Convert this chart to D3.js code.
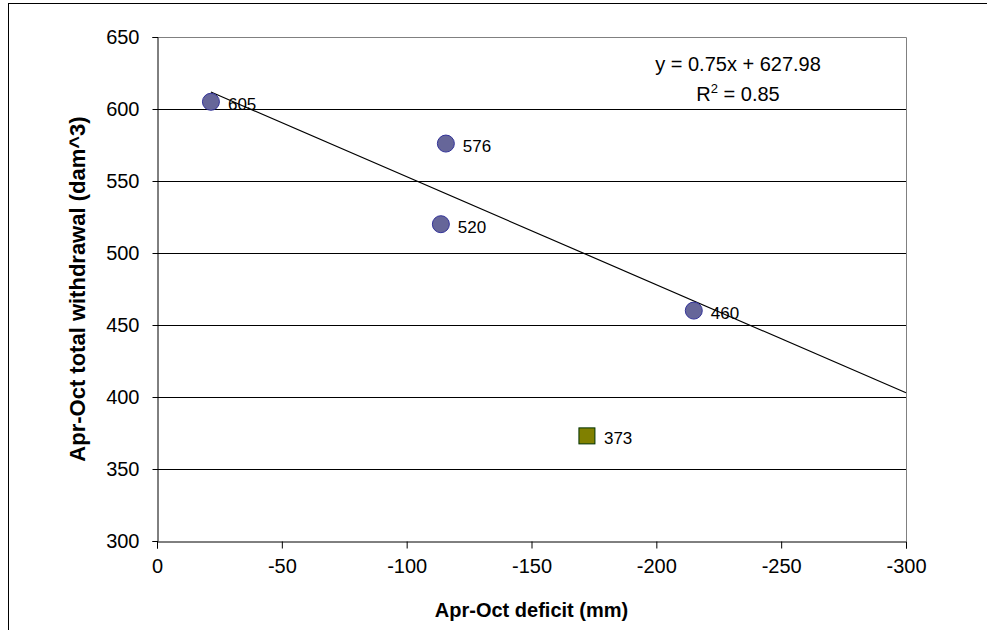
<!DOCTYPE html>
<html>
<head>
<meta charset="utf-8">
<script src="https://cdn.jsdelivr.net/npm/d3@7"></script>
<style>
  body { margin: 0; background: #fff; }
  svg { display: block; font-family: Arial, "Liberation Sans", sans-serif; }
</style>
</head>
<body>
<svg id="chart" width="987" height="630"></svg>
<script>
// observed years: deficit (mm) vs total withdrawal (dam^3)
var deficit = [-21.6, -115.7, -113.7, -215.0];
var withdrawal = [605, 576, 520, 460];
// the odd year, drawn as a square
var outlierDeficit = [-172.2];
var outlierWithdrawal = [373];
// trendline as given in the chart
var trendSlope = 0.75;
var trendIntercept = 627.98;
var trendR2 = 0.85;
var xTicks = [0, -50, -100, -150, -200, -250, -300];
var yTicks = [300, 350, 400, 450, 500, 550, 600, 650];

var svg = d3.select("#chart");
var margin = {left: 157, top: 37, right: 906, bottom: 541};

// outer frame (runs off the right and bottom edge)
svg.append("rect")
  .attr("x", 8.5).attr("y", 3.5)
  .attr("width", 1000).attr("height", 700)
  .attr("fill", "none").attr("stroke", "#000");

var x = d3.scaleLinear().domain([0, -300]).range([margin.left, margin.right]);
var y = d3.scaleLinear().domain([300, 650]).range([margin.bottom, margin.top]);

// gridlines
svg.append("g").selectAll("line")
  .data(yTicks.filter(function (d) { return d > 300 && d < 650; }))
  .join("line")
  .attr("x1", margin.left).attr("x2", margin.right)
  .attr("y1", function (d) { return Math.round(y(d)) + 0.5; })
  .attr("y2", function (d) { return Math.round(y(d)) + 0.5; })
  .attr("stroke", "#000");

// plot frame top + right in grey
svg.append("path")
  .attr("d", "M" + margin.left + "," + (margin.top + 0.5) + "H" + (margin.right + 0.5) + "V" + margin.bottom)
  .attr("fill", "none").attr("stroke", "#808080");

var xAxis = svg.append("g")
  .attr("transform", "translate(0," + (margin.bottom + 0.5) + ")")
  .call(d3.axisBottom(x).tickValues(xTicks).tickSize(7).tickPadding(10).tickFormat(d3.format("d")));
var yAxis = svg.append("g")
  .attr("transform", "translate(" + (margin.left + 0.5) + ",0)")
  .call(d3.axisLeft(y).tickValues(yTicks).tickSize(5).tickPadding(13));

[xAxis, yAxis].forEach(function (a) {
  a.select(".domain").attr("stroke", "#000");
  a.selectAll(".tick line").attr("stroke", "#000");
  a.selectAll("text").attr("font-size", 20).attr("fill", "#000")
    .attr("font-family", "Arial, 'Liberation Sans', sans-serif");
});
xAxis.selectAll("text").text(function (d) { return d === 0 ? "0" : String(d); });

// trendline, from the first point forward to the axis end
var trendX = [d3.max(deficit), -300];
svg.append("line")
  .attr("x1", x(trendX[0])).attr("y1", y(trendSlope * trendX[0] + trendIntercept))
  .attr("x2", x(trendX[1])).attr("y2", y(trendSlope * trendX[1] + trendIntercept))
  .attr("stroke", "#000").attr("stroke-width", 1.2);

// points
var pts = deficit.map(function (d, i) { return {x: d, y: withdrawal[i]}; });
svg.append("g").selectAll("circle")
  .data(pts)
  .join("circle")
  .attr("cx", function (d) { return x(d.x); })
  .attr("cy", function (d) { return y(d.y); })
  .attr("r", 8.5)
  .attr("fill", "#666699")
  .attr("stroke", "#333399")
  .attr("stroke-width", 1);

var odd = outlierDeficit.map(function (d, i) { return {x: d, y: outlierWithdrawal[i]}; });
svg.append("g").selectAll("rect")
  .data(odd)
  .join("rect")
  .attr("x", function (d) { return x(d.x) - 8; })
  .attr("y", function (d) { return y(d.y) - 8; })
  .attr("width", 16).attr("height", 16)
  .attr("fill", "#808000")
  .attr("stroke", "#003300");

// value labels
svg.append("g").selectAll("text")
  .data(pts.concat(odd))
  .join("text")
  .attr("x", function (d) { return x(d.x) + 17; })
  .attr("y", function (d) { return y(d.y) + 8.5; })
  .attr("font-size", 17)
  .text(function (d) { return d.y; });

// equation
var eq = svg.append("g").attr("text-anchor", "middle").attr("font-size", 20);
eq.append("text").attr("x", 738).attr("y", 71)
  .text("y = " + trendSlope.toFixed(2) + "x + " + trendIntercept.toFixed(2));
var r2 = eq.append("text").attr("x", 738).attr("y", 101);
r2.append("tspan").text("R");
r2.append("tspan").attr("font-size", 13).attr("dy", -8).text("2");
r2.append("tspan").attr("dy", 8).text(" = " + trendR2.toFixed(2));

// axis titles
svg.append("text")
  .attr("x", (margin.left + margin.right) / 2).attr("y", 617)
  .attr("text-anchor", "middle").attr("font-size", 20).attr("font-weight", "bold")
  .text("Apr-Oct deficit (mm)");
svg.append("text")
  .attr("transform", "translate(85," + ((margin.top + margin.bottom) / 2) + ") rotate(-90)")
  .attr("text-anchor", "middle").attr("font-size", 22).attr("font-weight", "bold")
  .text("Apr-Oct total withdrawal (dam^3)");
</script>
</body>
</html>
